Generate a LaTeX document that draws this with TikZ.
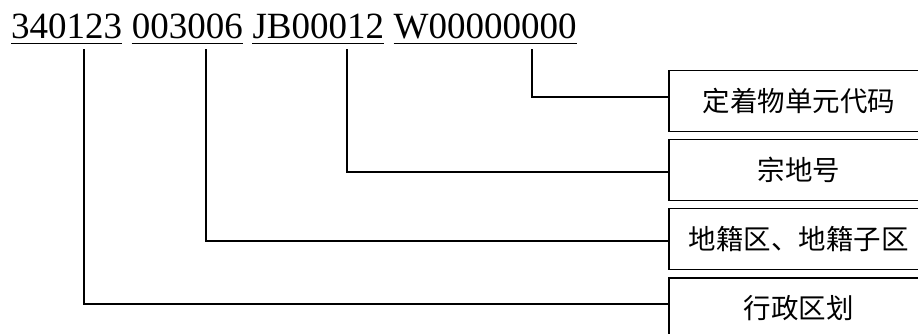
\documentclass[tikz,border=0pt]{standalone}
\usepackage{fontspec}
\setmainfont{Liberation Serif}
\newfontfamily\cjk{Noto Sans CJK SC}
\begin{document}
\begin{tikzpicture}[x=1pt,y=-1pt,
  code/.style={inner sep=0pt,anchor=base west,font=\fontsize{37}{40}\selectfont},
  uline/.style={line width=1.5pt},
  conn/.style={line width=1.6pt},
  labelbox/.style={draw,line width=1.8pt,anchor=west,minimum width=260pt,minimum height=61pt,inner sep=0pt,font=\cjk\fontsize{27.5}{30}\selectfont}]
\useasboundingbox (0,0) rectangle (918,333);
% code parts
\node[code] (c1) at (11,38) {340123};
\node[code] (c2) at ([xshift=9.25pt]c1.base east) {003006};
\node[code] (c3) at ([xshift=9.25pt]c2.base east) {JB00012};
\node[code] (c4) at ([xshift=9.25pt]c3.base east) {W00000000};
\foreach \n in {c1,c2,c3,c4}{
  \draw[uline] ([yshift=-5.7pt]\n.base west) -- ([yshift=-5.7pt]\n.base east);
}
% label boxes
\node[labelbox] (b1) at (668,101) {定着物单元代码};
\node[labelbox] (b2) at (668,170) {宗地号};
\node[labelbox] (b3) at (668,239) {地籍区、地籍子区};
\node[labelbox] (b4) at (668,308.3) {行政区划};
% connector tops
\coordinate (t1) at (532,49);
\coordinate (t2) at (347,49);
\coordinate (t3) at (206,49);
\coordinate (t4) at (84,49);
\draw[conn] (t1) |- ([yshift=4.3pt]b1.west);
\draw[conn] (t2) |- ([yshift=-1.7pt]b2.west);
\draw[conn] (t3) |- ([yshift=-1.7pt]b3.west);
\draw[conn] (t4) |- ([yshift=4.3pt]b4.west);
\end{tikzpicture}
\end{document}
